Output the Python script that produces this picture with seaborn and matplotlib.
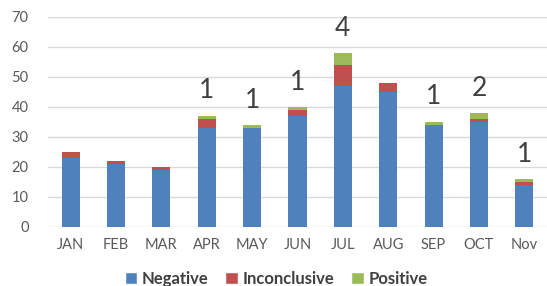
import matplotlib
matplotlib.use("Agg")
import matplotlib.pyplot as plt
import seaborn as sns
import pandas as pd
from matplotlib.patches import Patch

months = ["JAN", "FEB", "MAR", "APR", "MAY", "JUN", "JUL", "AUG", "SEP", "OCT", "Nov"]
negative = [23, 21, 19, 33, 33, 37, 47, 45, 34, 35, 14]
inconclusive = [2, 1, 1, 3, 0, 2, 7, 3, 0, 1, 1]
positive = [0, 0, 0, 1, 1, 1, 4, 0, 1, 2, 1]
y_ticks = [0, 10, 20, 30, 40, 50, 60, 70]

sns.set_theme(style="white")
plt.rcParams["font.family"] = ["Lato", "DejaVu Sans"]

blue, red, green = "#4F81BD", "#C0504D", "#9BBB59"

df = pd.DataFrame({"month": months, "neg": negative, "inc": inconclusive, "pos": positive})
df["neg_inc"] = df["neg"] + df["inc"]
df["total"] = df["neg_inc"] + df["pos"]

fig = plt.figure(figsize=(5.47, 2.86), dpi=100)
ax = fig.add_axes([48 / 547, 59 / 286, 1 - 48 / 547, 210 / 286])

sns.barplot(data=df, x="month", y="total", color=green, width=0.4, ax=ax, saturation=1, edgecolor="none", zorder=3)
sns.barplot(data=df, x="month", y="neg_inc", color=red, width=0.4, ax=ax, saturation=1, edgecolor="none", zorder=3)
sns.barplot(data=df, x="month", y="neg", color=blue, width=0.4, ax=ax, saturation=1, edgecolor="none", zorder=3)

labels = [str(p) if p > 0 else "" for p in positive]
ax.bar_label(ax.containers[0], labels=labels, padding=9, fontsize=19, color="#404040")

ax.set_ylim(0, 70)
ax.set_xlim(-0.5, len(months) - 0.5)
ax.set_yticks(y_ticks)
ax.yaxis.grid(True, color="#D9D9D9", linewidth=1, zorder=0)
ax.set_axisbelow(True)
for s in ax.spines.values():
    s.set_visible(False)
ax.set_xlabel("")
ax.set_ylabel("")
ax.tick_params(axis="both", length=0, labelsize=10.5, labelcolor="#595959")
ax.tick_params(axis="y", pad=14)
ax.tick_params(axis="x", pad=8)

handles = [Patch(facecolor=blue, label="Negative"),
           Patch(facecolor=red, label="Inconclusive"),
           Patch(facecolor=green, label="Positive")]
leg = fig.legend(handles=handles, loc="lower center", bbox_to_anchor=(0.505, -0.055), ncol=3,
                 frameon=False, prop={"weight": "bold", "size": 12},
                 handlelength=0.75, handleheight=0.75, handletextpad=0.3, columnspacing=1.0)
for t in leg.get_texts():
    t.set_color("#404040")

fig.savefig("out.png", dpi=100)
